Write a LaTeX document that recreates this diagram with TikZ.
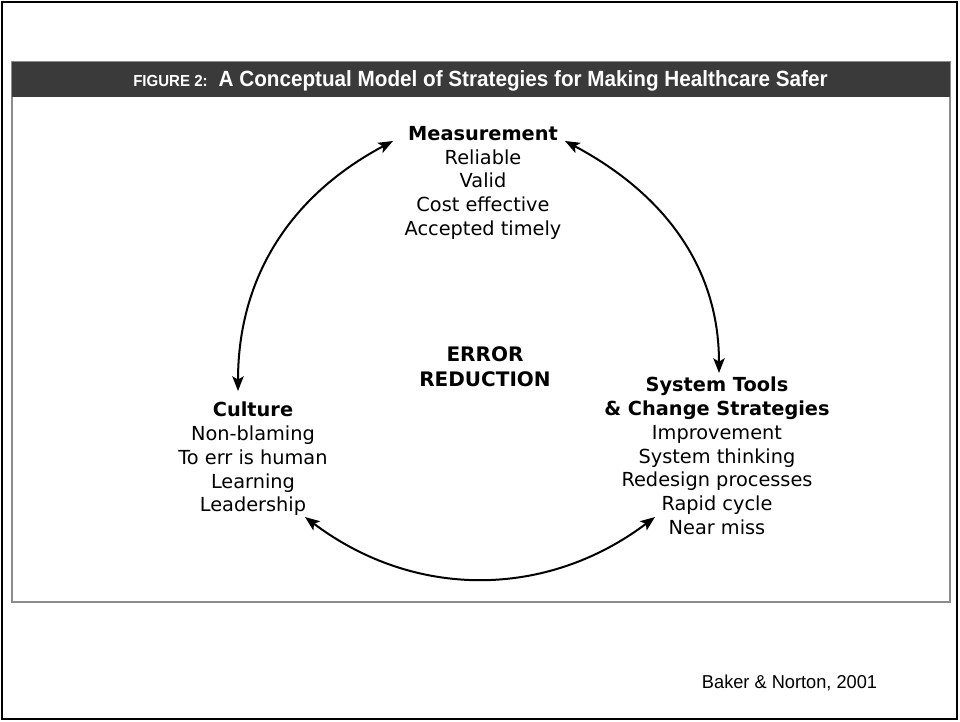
\documentclass[tikz,border=0pt]{standalone}
\usepackage{fontspec}
\setmainfont{DejaVu Sans}
\newfontfamily\titlefont[FakeStretch=0.94]{Liberation Sans}
\newfontfamily\citefont[FakeStretch=0.975]{Liberation Sans}
\usetikzlibrary{arrows.meta}
\definecolor{barcol}{HTML}{3A3A3A}
\definecolor{boxcol}{HTML}{8C8C8C}

\begin{document}
\begin{tikzpicture}[x=0.75pt, y=0.75pt,
	stratbox/.style = {align=center, inner sep=0pt, anchor=north,
		font=\fontsize{14.5}{17.8}\selectfont},
	cyclearrow/.style = {{Stealth[length=11pt,width=8.5pt,inset=2.5pt]}-{Stealth[length=11pt,width=8.5pt,inset=2.5pt]},
		line width=1.5pt}]
		\useasboundingbox (0,0) rectangle (960,721);
		% frame, box and title bar
		\draw[line width=1.5pt] (2,2) rectangle (957,719);
		\draw[boxcol, line width=0.8pt] (12,119) rectangle (950,659);
		\fill[barcol] (12,624) rectangle (950,659);
		\node[anchor=base, inner sep=0pt, text=white,
		      font=\titlefont\bfseries\fontsize{16.5}{16.5}\selectfont] (title) at (480.5,634.3)
		      {{\fontsize{12}{12}\selectfont FIGURE 2:}\hspace{0.5em}A Conceptual Model of Strategies for Making Healthcare Safer};
		% the three strategies
		\node[stratbox] (meas) at (483,595) {%
			\textbf{Measurement}\\
			Reliable\\
			Valid\\
			Cost effective\\
			Accepted timely};
		\node[stratbox] (cult) at (253,319) {%
			\textbf{Culture}\\
			Non-blaming\\
			To err is human\\
			Learning\\
			Leadership};
		\node[stratbox] (sys) at (717,344) {%
			\textbf{System Tools}\\
			\textbf{\& Change Strategies}\\
			Improvement\\
			System thinking\\
			Redesign processes\\
			Rapid cycle\\
			Near miss};
		\node[stratbox, font=\bfseries\fontsize{15}{18.8}\selectfont] (err) at (485,375) {ERROR\\REDUCTION};
		\node[anchor=base, inner sep=0pt, font=\citefont\fontsize{14}{14}\selectfont] (cite) at (789.5,32.7) {Baker \& Norton, 2001};
		% arrow ends
		\coordinate (m1) at (393,580);
		\coordinate (m2) at (565,580);
		\coordinate (c1) at (238,330);
		\coordinate (c2) at (305,204);
		\coordinate (s1) at (719,348);
		\coordinate (s2) at (655,204);
		\draw[cyclearrow] (c1) to[out=90, in=208] (m1);
		\draw[cyclearrow] (m2) to[out=-28, in=90] (s1);
		\draw[cyclearrow] (c2) to[out=-37, in=217] (s2);
\end{tikzpicture}
\end{document}
